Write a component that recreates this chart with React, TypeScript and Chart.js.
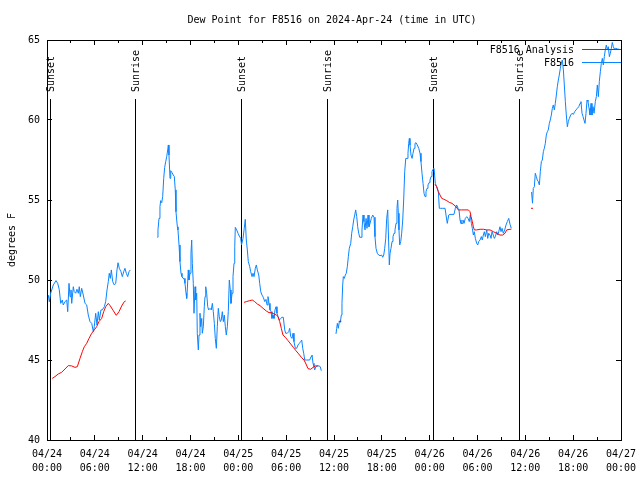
import React, { useEffect, useRef } from 'react';
import { Chart, registerables } from 'chart.js';

Chart.register(...registerables);

const TITLE = 'Dew Point for F8516 on 2024-Apr-24 (time in UTC)';
const Y_LABEL = 'degrees F';
const DAY_LABELS = ['04/24', '04/25', '04/26', '04/27'];
const HOUR_LABELS = ['00:00', '06:00', '12:00', '18:00'];
const SUN_EVENT_HOURS = [0.41, 11.08, 24.37, 35.16, 48.46, 59.25];
const SUN_EVENT_LABELS = ['Sunset', 'Sunrise', 'Sunset', 'Sunrise', 'Sunset', 'Sunrise'];

// hours since 04/24 00:00 UTC; null marks a gap in the record
const OBS_HOURS = [
  0.16, 0.29, 0.46, 0.79, 1.13, 1.34, 1.54, 1.72, 1.92, 2.04, 2.26, 2.47, 2.60, 2.76, 2.89, 3.01, 3.10, 3.30, 3.42, 3.60,
  3.76, 3.93, 4.05, 4.18, 4.35, 4.55, 4.77, 4.98, 5.18, 5.39, 5.61, 5.81, 5.93, 6.11, 6.27, 6.44, 6.56, 6.77, 6.94, 7.19,
  7.36, 7.53, 7.69, 7.81, 7.94, 8.07, 8.24, 8.44, 8.62, 8.78, 8.91, 9.07, 9.28, 9.45, 9.62, 9.78, 9.95, 10.12, 10.29, 10.45,
  12,
  13.84, 13.92, 14.05, 14.17, 14.26, 14.39, 14.51, 14.64, 14.76, 14.89, 15.02, 15.14, 15.22, 15.30, 15.43, 15.52, 15.68, 15.84, 15.97, 16.09,
  16.18, 16.27, 16.35, 16.43, 16.56, 16.68, 16.81, 16.93, 17.06, 17.19, 17.31, 17.44, 17.52, 17.60, 17.72, 17.81, 17.94, 18.06, 18.15, 18.23,
  18.35, 18.44, 18.57, 18.65, 18.78, 18.85, 18.98, 19.07, 19.19, 19.28, 19.41, 19.48, 19.61, 19.73, 19.82, 19.91, 20.03, 20.16, 20.28, 20.45,
  20.61, 20.74, 20.86, 20.99, 21.11, 21.24, 21.36, 21.49, 21.61, 21.74, 21.86, 21.99, 22.12, 22.24, 22.37, 22.49, 22.62, 22.74, 22.87, 22.99,
  23.08, 23.21, 23.33, 23.46, 23.55, 23.62, 23.80, 23.96, 24.12, 24.30,
  24.40, 24.59, 24.74, 24.87, 25.00, 25.13, 25.25, 25.43, 25.55, 25.72, 25.84, 25.97, 26.13, 26.26, 26.38, 26.56, 26.68, 26.81, 26.97, 27.13,
  27.31, 27.47, 27.60, 27.72, 27.85, 27.97, 28.10, 28.22, 28.35, 28.47, 28.60, 28.73, 28.85, 28.98, 29.14, 29.32, 29.48, 29.64, 29.82, 29.94,
  30.14, 30.32, 30.44, 30.57, 30.73, 30.86, 30.98, 31.15, 31.32, 31.49, 31.65, 31.82, 31.95, 32.08, 32.20, 32.33, 32.53, 32.74, 32.95, 33.12,
  33.24, 33.37, 33.49, 33.58, 33.71, 33.91, 34.12, 34.28, 34.41,
  35.3,
  36.25, 36.34, 36.42, 36.54, 36.67, 36.79, 36.92, 37.00, 37.09, 37.17, 37.29, 37.42, 37.54, 37.67, 37.80, 37.92, 38.10, 38.22, 38.35, 38.47,
  38.60, 38.72, 38.85, 38.97, 39.10, 39.23, 39.39, 39.51, 39.64, 39.76, 39.89, 40.02, 40.14, 40.27, 40.39, 40.52, 40.68, 40.86, 41.02, 41.14,
  41.27, 41.43, 41.61, 41.77, 41.98, 42.11, 42.24, 42.36, 42.49, 42.61, 42.74, 42.81, 42.94, 43.03, 43.15, 43.28, 43.40, 43.53, 43.65, 43.78,
  43.90, 43.99, 44.07, 44.15, 44.24, 44.37, 44.49, 44.62, 44.74, 44.87, 45.00, 45.16, 45.28, 45.37, 45.45, 45.53, 45.66, 45.79, 45.91, 46.04,
  46.16, 46.29, 46.45, 46.63, 46.79, 46.91, 47.04, 47.17, 47.29, 47.42, 47.54, 47.67, 47.79, 47.92, 48.04, 48.17, 48.29, 48.42, 48.55,
  48.71, 48.88, 49.09, 49.21, 49.39, 49.64, 49.93, 50.05, 50.21, 50.39, 50.55, 50.80, 51.05, 51.22, 51.39, 51.56, 51.68, 51.81, 51.93, 52.06,
  52.18, 52.31, 52.47, 52.65, 52.81, 52.97, 53.10, 53.23, 53.35, 53.48, 53.60, 53.73, 53.90, 54.03, 54.15, 54.32, 54.48, 54.60, 54.73, 54.86,
  54.98, 55.16, 55.28, 55.41, 55.57, 55.70, 55.82, 55.98, 56.11, 56.24, 56.41, 56.54, 56.66, 56.82, 56.95, 57.08, 57.24, 57.41, 57.58, 57.74,
  57.92, 58.08, 58.24,
  59.5,
  60.78, 60.90, 61.00, 61.13, 61.25, 61.38, 61.50, 61.63, 61.76, 61.88, 62.01, 62.13, 62.26, 62.38, 62.51, 62.63, 62.76, 62.88, 63.01, 63.13,
  63.26, 63.39, 63.51, 63.64, 63.76, 63.89, 64.01, 64.14, 64.26, 64.39, 64.51, 64.64, 64.77, 64.89, 65.02, 65.14, 65.27, 65.39, 65.52, 65.69,
  65.86, 66.02, 66.19, 66.36, 66.52, 66.70, 66.86, 66.98, 67.11, 67.24, 67.36, 67.49, 67.61, 67.74, 67.86, 67.99, 68.11, 68.24, 68.36, 68.49,
  68.62, 68.78, 68.91, 69.03, 69.16, 69.28, 69.41, 69.53, 69.66, 69.78, 69.91, 70.03, 70.16, 70.29, 70.41, 70.54, 70.66, 70.79, 70.91, 71.04,
  71.16, 71.34, 71.54, 71.79,
];

const OBS_DEW = [
  49.06, 48.64, 49.17, 49.69, 49.96, 49.79, 49.4, 48.54, 48.75, 48.44, 48.65, 48.75, 48.02, 49.79, 48.96, 49.38, 48.54, 49.58, 49.27, 49.17,
  49.42, 49.17, 49.58, 48.96, 49.48, 49.06, 48.54, 48.44, 47.81, 47.4, 47.29, 46.77, 47.08, 47.92, 47.19, 48.02, 47.5, 48.13, 48.13, 48.33,
  48.65, 49.38, 49.9, 50.42, 50.1, 50.63, 49.9, 49.69, 49.79, 50.63, 51.08, 50.73, 50.52, 50.21, 50.52, 50.73, 50.42, 50.21, 50.52, 50.63,
  null,
  52.67, 53.13, 53.85, 54.58, 54.96, 54.83, 55.21, 56.35, 57.04, 57.4, 57.71, 58.13, 58.44, 57.81, 56.35, 56.83, 56.71, 56.56, 56.46, 55.63,
  54.27, 53.75, 53.33, 53.13, 52.19, 51.15, 50.42, 50.21, 50.1, 50.1, 49.79, 49.17, 48.85, 49.38, 50.63, 50.0, 50.42, 51.67, 52.5, 51.04,
  49.79, 47.92, 49.58, 48.75, 49.17, 46.67, 45.63, 46.56, 47.92, 47.08, 47.6, 46.67, 47.08, 48.33, 48.96, 49.58, 49.17, 48.33, 48.13, 48.23,
  48.13, 48.54, 48.02, 47.29, 46.35, 45.73, 47.08, 48.23, 47.71, 47.4, 47.5, 48.02, 47.4, 47.81, 47.08, 46.56, 47.08, 48.02, 50.0, 49.38,
  48.54, 49.17, 50.21, 51.04, 52.08, 53.29, 53.13, 52.92, 52.75, 52.6,
  52.2, 52.6, 53.23, 53.79, 52.5, 51.88, 51.15, 50.83, 50.52, 50.21, 50.42, 50.21, 50.73, 50.94, 50.63, 50.31, 49.79, 49.27, 49.06, 48.92,
  48.65, 48.79, 48.44, 48.96, 48.54, 48.13, 48.02, 47.6, 47.81, 47.6, 48.13, 48.33, 47.92, 47.71, 47.5, 47.6, 47.67, 47.67, 46.88, 46.67,
  46.67, 46.77, 46.98, 46.46, 46.35, 46.67, 46.15, 45.73, 45.73, 45.94, 46.04, 46.15, 46.25, 45.73, 45.42, 45.0, 45.0, 45.0, 45.0, 45.21,
  45.31, 44.79, 44.58, 44.38, 44.58, 44.63, 44.63, 44.58, 44.33,
  null,
  46.63, 46.98, 47.29, 46.98, 47.4, 47.35, 47.81, 48.54, 49.69, 50.21, 50.1, 50.31, 50.42, 50.83, 51.46, 51.98, 52.29, 52.92, 53.33, 53.75,
  54.06, 54.38, 53.96, 53.33, 52.92, 52.67, 52.67, 53.13, 54.06, 53.65, 53.13, 53.85, 53.23, 54.06, 53.33, 53.54, 53.85, 54.06, 53.92, 52.71,
  51.98, 51.67, 51.56, 51.52, 51.56, 51.42, 51.56, 51.98, 52.6, 53.85, 54.38, 53.13, 50.94, 51.67, 51.98, 52.4, 52.71, 52.92, 53.13, 53.54,
  54.48, 55.0, 54.17, 53.13, 52.19, 52.4, 52.92, 53.75, 55.0, 56.77, 57.6, 57.6, 57.92, 58.54, 58.85, 58.44, 57.81, 57.6, 57.92, 58.23,
  58.54, 58.58, 58.44, 58.23, 57.92, 57.4, 56.67, 56.04, 55.42, 55.21, 55.52, 55.73, 55.94, 56.08, 56.25, 56.46, 56.77, 56.92, 56.98,
  56.04, 55.83, 55.52, 54.48, 54.48, 54.48, 54.48, 54.06, 53.54, 54.06, 54.1, 54.1, 54.1, 54.48, 54.69, 54.48, 54.38, 53.75, 53.54, 53.54,
  53.75, 53.54, 53.85, 53.96, 53.85, 53.65, 54.06, 53.54, 53.23, 52.81, 53.02, 52.6, 52.29, 52.19, 52.4, 52.5, 52.71, 52.5, 52.81, 53.02,
  52.71, 53.13, 52.6, 52.92, 52.81, 52.6, 53.02, 52.81, 52.6, 52.71, 53.02, 52.81, 53.02, 53.33, 53.02, 53.23, 52.92, 53.13, 53.44, 53.65,
  53.85, 53.48, 53.23,
  null,
  55.5, 54.8, 55.73, 55.83, 56.67, 56.46, 56.25, 56.15, 55.94, 56.77, 57.4, 57.5, 58.02, 58.23, 58.54, 59.06, 59.27, 59.38, 59.79, 60.0,
  60.31, 60.73, 60.94, 60.63, 61.04, 61.56, 62.08, 62.5, 62.81, 63.23, 63.54, 63.75, 63.13, 62.19, 61.15, 60.31, 59.58, 59.9, 60.1, 60.31,
  60.42, 60.35, 60.52, 60.63, 60.73, 60.83, 61.04, 61.15, 60.42, 60.21, 60.0, 59.79, 60.42, 61.25, 61.15, 60.73, 60.31, 61.04, 60.31, 60.83,
  60.42, 61.15, 61.46, 62.19, 61.46, 62.4, 63.02, 63.54, 63.85, 63.44, 63.96, 64.38, 64.69, 64.38, 64.58, 63.96, 64.17, 64.48, 64.85, 64.58,
  64.44, 64.48, 64.44, 64.42,
];

const ANA_HOURS = [
  0.66, 1.00, 1.42, 1.84, 2.26, 2.67, 3.10, 3.51, 3.80, 4.14, 4.43, 4.68, 4.98, 5.27, 5.61, 5.93, 6.23, 6.52, 6.86, 7.11,
  7.36, 7.69, 7.94, 8.32, 8.69, 9.03, 9.37, 9.70, 9.87,
  17,
  24.71, 25.00, 25.43, 25.75, 26.05, 26.38, 26.72, 27.10, 27.51, 27.85, 28.14, 28.47, 28.76, 28.98, 29.19, 29.39, 29.60, 29.89, 30.23, 30.57,
  30.90, 31.23, 31.57, 31.90, 32.24, 32.49, 32.74, 33.08, 33.37, 33.66, 33.99,
  35,
  36.59, 36.92,
  42,
  48.67, 48.88, 49.09, 49.30, 49.51, 49.71, 50.14, 50.46, 50.80, 51.05, 51.31, 51.59, 52.02, 52.43, 52.85, 53.06, 53.19, 53.35, 53.48, 53.60,
  53.90, 54.32, 54.73, 55.16, 55.57, 55.98, 56.41, 56.82, 57.16, 57.45, 57.66, 58.08, 58.24,
  59.5,
  60.71, 60.96,
];

const ANA_DEW = [
  43.85, 43.96, 44.13, 44.23, 44.44, 44.65, 44.63, 44.54, 44.58, 45.1, 45.52, 45.83, 46.04, 46.35, 46.67, 46.88, 47.08, 47.4, 47.6, 48.02,
  48.33, 48.54, 48.38, 48.08, 47.79, 48.02, 48.38, 48.65, 48.69,
  null,
  48.6, 48.65, 48.71, 48.75, 48.65, 48.5, 48.4, 48.23, 48.06, 47.96, 47.96, 47.88, 47.81, 47.71, 47.4, 46.98, 46.56, 46.42, 46.21, 46.0,
  45.79, 45.58, 45.38, 45.17, 45.0, 44.75, 44.46, 44.42, 44.54, 44.63, 44.63,
  null,
  47.42, 47.42,
  null,
  55.98, 55.83, 55.52, 55.31, 55.1, 55.06, 54.96, 54.85, 54.79, 54.69, 54.58, 54.38, 54.38, 54.38, 54.38, 54.27, 53.96, 53.65, 53.33, 53.13,
  53.13, 53.17, 53.17, 53.13, 53.13, 53.02, 52.92, 52.81, 52.81, 52.92, 53.13, 53.17, 53.17,
  null,
  54.48, 54.48,
];

const FONT_FAMILY = '"DejaVu Sans Mono", "Liberation Mono", monospace';
const FONT = `10px ${FONT_FAMILY}`;
const OBS_COLOR = '#0a84ff';
const ANA_COLOR = '#ff0000';

const toPoints = (hours: number[], vals: (number | null)[]) =>
  hours.map((h, i) => ({ x: h, y: vals[i] }));

const gnuplotFrame = {
  id: 'gnuplotFrame',
  beforeDatasetsDraw(chart: any) {
    const { ctx, chartArea: a, scales } = chart;
    const xs = scales.x;
    ctx.save();
    ctx.strokeStyle = '#000';
    ctx.lineWidth = 1;
    ctx.fillStyle = '#000';
    ctx.font = FONT;
    SUN_EVENT_HOURS.forEach((h, i) => {
      const px = Math.floor(xs.getPixelForValue(h)) + 0.5;
      ctx.beginPath();
      ctx.moveTo(px, 99);
      ctx.lineTo(px, a.bottom);
      ctx.stroke();
      ctx.save();
      ctx.translate(px + 1, 92);
      ctx.rotate(-Math.PI / 2);
      ctx.textAlign = 'left';
      ctx.textBaseline = 'middle';
      ctx.fillText(SUN_EVENT_LABELS[i], 0, 0);
      ctx.restore();
    });
    ctx.restore();
  },
  afterDatasetsDraw(chart: any) {
    const { ctx, chartArea: a, scales } = chart;
    const xs = scales.x;
    const ys = scales.y;
    ctx.save();
    ctx.strokeStyle = '#000';
    ctx.lineWidth = 1;
    ctx.strokeRect(a.left + 0.5, a.top + 0.5, a.right - a.left, a.bottom - a.top);
    // x ticks (major every 6 h, minor every 3 h), mirrored on top
    ctx.beginPath();
    for (let h = 0; h <= 72; h += 3) {
      const px = Math.floor(xs.getPixelForValue(h)) + 0.5;
      const len = h % 6 === 0 ? 5 : 3;
      ctx.moveTo(px, a.bottom);
      ctx.lineTo(px, a.bottom - len);
      ctx.moveTo(px, a.top);
      ctx.lineTo(px, a.top + len);
    }
    for (let v = 40; v <= 65; v += 5) {
      const py = Math.floor(ys.getPixelForValue(v)) + 0.5;
      ctx.moveTo(a.left, py);
      ctx.lineTo(a.left + 5, py);
      ctx.moveTo(a.right, py);
      ctx.lineTo(a.right - 5, py);
    }
    ctx.stroke();

    // title
    ctx.fillStyle = '#000';
    ctx.font = FONT;
    ctx.textAlign = 'center';
    ctx.textBaseline = 'middle';
    ctx.fillText(TITLE, (a.left + a.right) / 2 - 2, 20);

    // legend (gnuplot style: text, then sample line)
    chart.data.datasets.forEach((ds: any, i: number) => {
      const y = 50 + i * 13;
      ctx.fillStyle = '#000';
      ctx.textAlign = 'right';
      ctx.fillText(ds.label, 574, y);
      ctx.strokeStyle = ds.borderColor;
      ctx.beginPath();
      ctx.moveTo(582, y - 0.5);
      ctx.lineTo(a.right, y - 0.5);
      ctx.stroke();
    });
    ctx.restore();
  },
};

export default function App() {
  const canvasRef = useRef<HTMLCanvasElement | null>(null);

  useEffect(() => {
    const canvas = canvasRef.current;
    if (!canvas) return;
    const chart = new Chart(canvas, {
      type: 'line',
      data: {
        datasets: [
          {
            label: 'F8516 Analysis',
            data: toPoints(ANA_HOURS, ANA_DEW),
            borderColor: ANA_COLOR,
            backgroundColor: ANA_COLOR,
            borderWidth: 1,
            pointRadius: 0,
            tension: 0,
            spanGaps: false,
          },
          {
            label: 'F8516',
            data: toPoints(OBS_HOURS, OBS_DEW),
            borderColor: OBS_COLOR,
            backgroundColor: OBS_COLOR,
            borderWidth: 1,
            pointRadius: 0,
            tension: 0,
            spanGaps: false,
          },
        ],
      },
      options: {
        responsive: false,
        animation: false,
        events: [],
        layout: { padding: { top: 40, right: 19, left: 0, bottom: 0 } },
        plugins: {
          legend: { display: false },
          title: { display: false },
          tooltip: { enabled: false },
        },
        scales: {
          x: {
            type: 'linear',
            min: 0,
            max: 72,
            afterFit: (s: any) => {
              s.height = 40;
              s.paddingLeft = 0;
              s.paddingRight = 0;
            },
            grid: { display: false, drawTicks: false },
            border: { display: false },
            ticks: {
              stepSize: 6,
              autoSkip: false,
              maxRotation: 0,
              minRotation: 0,
              padding: 7,
              color: '#000',
              font: { family: FONT_FAMILY, size: 10, lineHeight: 1.4 },
              callback: (v: any) => {
                const h = Math.round(Number(v));
                return [DAY_LABELS[Math.floor(h / 24)], HOUR_LABELS[(h % 24) / 6]];
              },
            },
          },
          y: {
            type: 'linear',
            min: 40,
            max: 65,
            afterFit: (s: any) => {
              s.width = 47;
              s.paddingTop = 0;
              s.paddingBottom = 0;
            },
            grid: { display: false, drawTicks: false },
            border: { display: false },
            ticks: {
              stepSize: 5,
              padding: 7,
              color: '#000',
              font: { family: FONT_FAMILY, size: 10 },
            },
            title: {
              display: true,
              text: Y_LABEL,
              color: '#000',
              font: { family: FONT_FAMILY, size: 10 },
              padding: { top: 6, bottom: 0 },
            },
          },
        },
      },
      plugins: [gnuplotFrame],
    });
    return () => chart.destroy();
  }, []);

  return (
    <div style={{ position: 'fixed', left: 0, top: 0, width: 640, height: 480, background: '#fff' }}>
      <canvas ref={canvasRef} width={640} height={480} style={{ display: 'block' }} />
    </div>
  );
}
